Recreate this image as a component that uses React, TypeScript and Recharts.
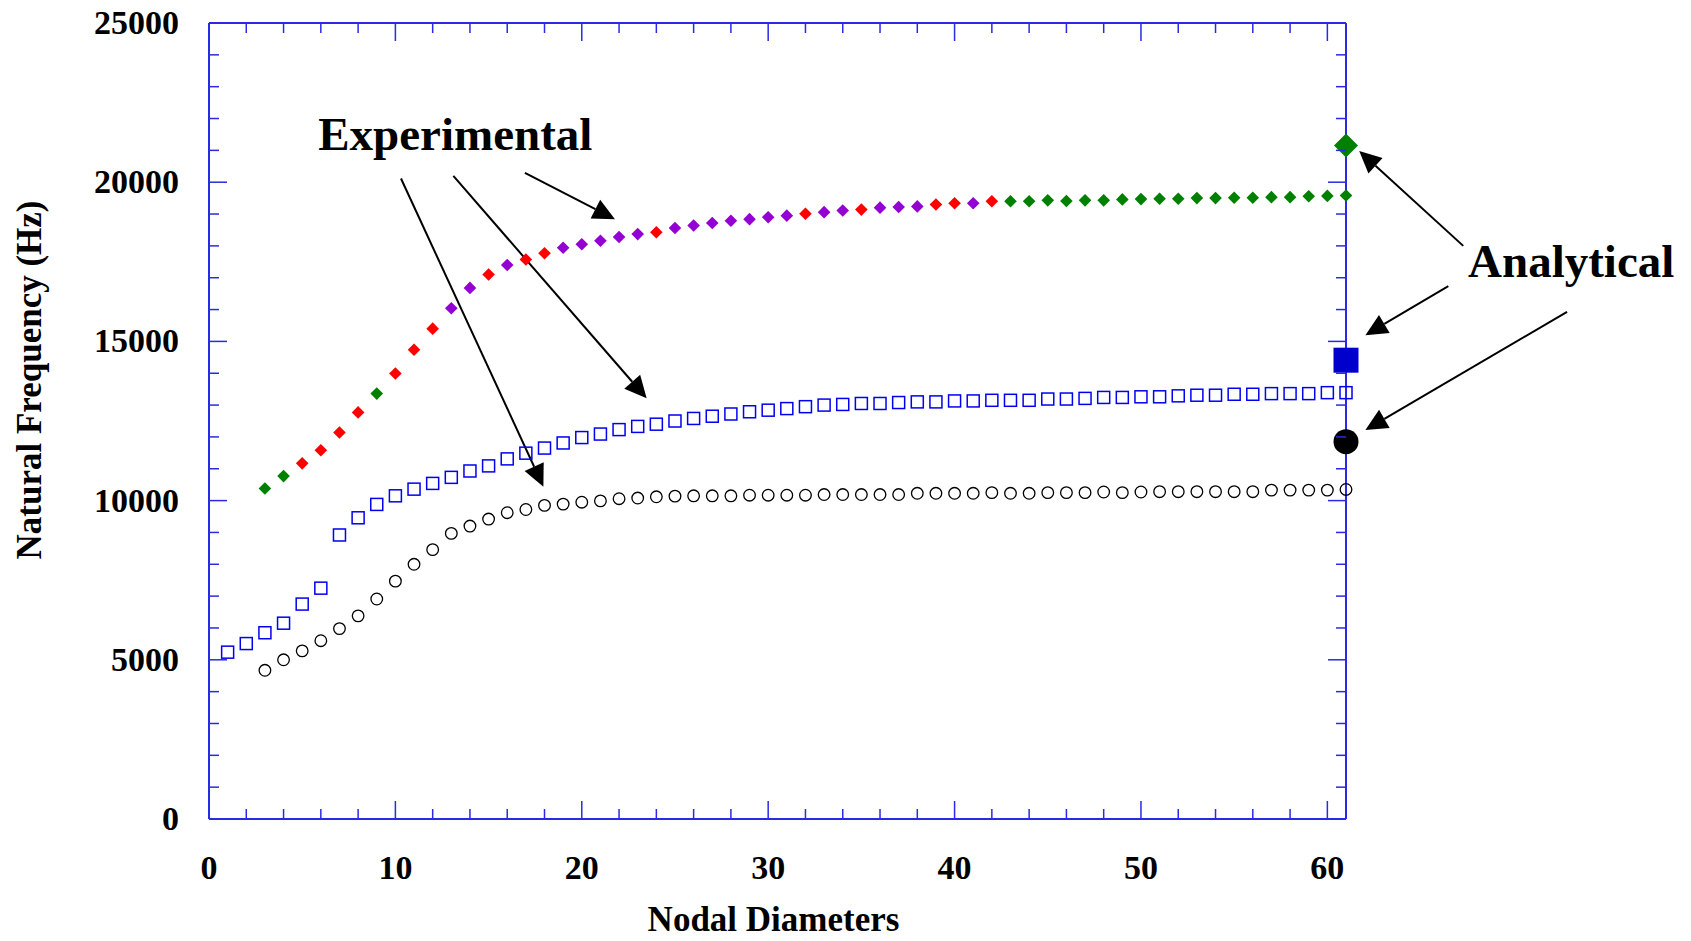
import React from 'react';
import { ScatterChart, Scatter, XAxis, YAxis, ReferenceLine, ReferenceDot } from 'recharts';

// nodal diameter of each measured point
const nodalDiameters = [
  1, 2, 3, 4, 5, 6, 7, 8, 9, 10, 11, 12, 13, 14, 15, 16, 17, 18, 19, 20,
  21, 22, 23, 24, 25, 26, 27, 28, 29, 30, 31, 32, 33, 34, 35, 36, 37, 38, 39, 40,
  41, 42, 43, 44, 45, 46, 47, 48, 49, 50, 51, 52, 53, 54, 55, 56, 57, 58, 59, 60, 61,
];

// experimental, lowest family (open circles)
const circleFreq = [
  null, null, 4670, 5000, 5280, 5600, 5980, 6380, 6910, 7470, 8000, 8460, 8970, 9200, 9420, 9620, 9720, 9850, 9890, 9950,
  9990, 10060, 10080, 10120, 10140, 10150, 10150, 10150, 10170, 10170, 10170, 10170, 10190, 10190, 10190, 10190, 10190, 10230, 10230, 10230,
  10230, 10250, 10230, 10230, 10250, 10250, 10250, 10270, 10250, 10270, 10280, 10280, 10280, 10280, 10280, 10280, 10330, 10330, 10330, 10330, 10350,
];

// experimental, middle family (open squares)
const squareFreq = [
  5240, 5510, 5850, 6150, 6750, 7250, 8920, 9460, 9880, 10150, 10360, 10540, 10730, 10930, 11090, 11310, 11490, 11650, 11810, 11980,
  12090, 12230, 12330, 12400, 12500, 12580, 12650, 12720, 12790, 12840, 12890, 12950, 13000, 13020, 13050, 13050, 13080, 13100, 13100, 13130,
  13130, 13150, 13150, 13150, 13190, 13190, 13210, 13240, 13240, 13260, 13260, 13290, 13310, 13310, 13340, 13340, 13360, 13360, 13360, 13390, 13390,
];

// experimental, upper family (diamonds)
const diamondFreq = [
  null, null, 10380, 10770, 11170, 11580, 12140, 12770, 13360, 13990, 14740, 15400, 16040, 16680, 17100, 17400, 17570, 17770, 17940, 18050,
  18160, 18280, 18370, 18430, 18560, 18640, 18720, 18790, 18840, 18900, 18950, 19010, 19060, 19110, 19140, 19200, 19220, 19240, 19300, 19340,
  19340, 19400, 19400, 19400, 19430, 19410, 19430, 19430, 19460, 19470, 19480, 19480, 19500, 19500, 19510, 19510, 19530, 19530, 19560, 19570, 19580,
];

// which test each diamond came from: g = green, r = red, p = purple
const diamondTest = [
  '', '', 'g', 'g', 'r', 'r', 'r', 'r', 'g', 'r', 'r', 'r', 'p', 'p', 'r', 'p', 'r', 'r', 'p', 'p',
  'p', 'p', 'p', 'r', 'p', 'p', 'p', 'p', 'p', 'p', 'p', 'r', 'p', 'p', 'r', 'p', 'p', 'p', 'r', 'r',
  'p', 'r', 'g', 'g', 'g', 'g', 'g', 'g', 'g', 'g', 'g', 'g', 'g', 'g', 'g', 'g', 'g', 'g', 'g', 'g', 'g',
];

// analytical predictions
const analyticalNd = 61;
const analyticalCircle = 11850;
const analyticalSquare = 14410;
const analyticalDiamond = 21150;

const xTicks = [0, 2, 4, 6, 8, 10, 12, 14, 16, 18, 20, 22, 24, 26, 28, 30, 32, 34, 36, 38, 40, 42, 44, 46, 48, 50, 52, 54, 56, 58, 60];
const xLabels = [0, 10, 20, 30, 40, 50, 60];
const yTicks = [
  0, 1000, 2000, 3000, 4000, 5000, 6000, 7000, 8000, 9000, 10000, 11000, 12000, 13000,
  14000, 15000, 16000, 17000, 18000, 19000, 20000, 21000, 22000, 23000, 24000, 25000,
];
const yLabels = [0, 5000, 10000, 15000, 20000, 25000];

const BLUE = '#2a2ae6';
const FONT = '"Liberation Serif", "Times New Roman", Times, serif';
const testColors: Record<string, string> = { g: '#008000', r: '#ff0000', p: '#9400d3' };

const pick = (vals: (number | null)[]) =>
  nodalDiameters.flatMap((nd, i) => (vals[i] == null ? [] : [{ x: nd, y: vals[i] as number }]));
const diamondsOf = (code: string) =>
  nodalDiameters.flatMap((nd, i) =>
    diamondTest[i] === code && diamondFreq[i] != null ? [{ x: nd, y: diamondFreq[i] as number }] : []
  );

// annotation arrows, in data units
const arrows = [
  { x1: 10.3, y1: 20115, x2: 17.94, y2: 10437 },
  { x1: 13.11, y1: 20196, x2: 23.48, y2: 13211 },
  { x1: 16.95, y1: 20290, x2: 21.78, y2: 18838 },
  { x1: 67.29, y1: 18000, x2: 61.71, y2: 20981 },
  { x1: 66.49, y1: 16735, x2: 62.04, y2: 15197 },
  { x1: 72.86, y1: 15929, x2: 62.04, y2: 12216 },
];

const openCircle = (p: any) => <circle cx={p.cx} cy={p.cy} r={5.8} fill="none" stroke="#000" strokeWidth={1.3} />;
const openSquare = (p: any) => (
  <rect x={p.cx - 6} y={p.cy - 6} width={12} height={12} fill="none" stroke="#0000ee" strokeWidth={1.5} />
);
const diamond = (color: string, h: number) => (p: any) => (
  <polygon
    points={`${p.cx},${p.cy - h} ${p.cx + h},${p.cy} ${p.cx},${p.cy + h} ${p.cx - h},${p.cy}`}
    fill={color}
  />
);
const bigCircle = (p: any) => <circle cx={p.cx} cy={p.cy} r={12.5} fill="#000" />;
const bigSquare = (p: any) => <rect x={p.cx - 12.5} y={p.cy - 12.5} width={25} height={25} fill="#0000cc" />;

const arrowShape = (p: any) => {
  const { x1, y1, x2, y2 } = p;
  const dx = x2 - x1;
  const dy = y2 - y1;
  const len = Math.sqrt(dx * dx + dy * dy) || 1;
  const ux = dx / len;
  const uy = dy / len;
  const bx = x2 - ux * 22;
  const by = y2 - uy * 22;
  return (
    <g>
      <line x1={x1} y1={y1} x2={bx} y2={by} stroke="#000" strokeWidth={2} />
      <polygon points={`${x2},${y2} ${bx - uy * 10.5},${by + ux * 10.5} ${bx + uy * 10.5},${by - ux * 10.5}`} fill="#000" />
    </g>
  );
};

const bigText = (text: string) => (p: any) => (
  <text x={p.cx} y={p.cy} fontFamily={FONT} fontWeight="bold" fontSize={47} fill="#000">
    {text}
  </text>
);

const BottomTick = (p: any) => {
  const major = xLabels.includes(p.payload.value);
  return (
    <g>
      <line x1={p.x} y1={p.y} x2={p.x} y2={p.y - (major ? 18 : 10)} stroke={BLUE} strokeWidth={1.5} />
      {major && (
        <text x={p.x} y={p.y + 60} textAnchor="middle" fontFamily={FONT} fontWeight="bold" fontSize={34} fill="#000">
          {p.payload.value}
        </text>
      )}
    </g>
  );
};
const TopTick = (p: any) => {
  const major = xLabels.includes(p.payload.value);
  return <line x1={p.x} y1={p.y} x2={p.x} y2={p.y + (major ? 18 : 10)} stroke={BLUE} strokeWidth={1.5} />;
};
const LeftTick = (p: any) => {
  const major = yLabels.includes(p.payload.value);
  return (
    <g>
      <line x1={p.x} y1={p.y} x2={p.x + (major ? 18 : 10)} y2={p.y} stroke={BLUE} strokeWidth={1.5} />
      {major && (
        <text x={p.x - 30} y={p.y} dy={11} textAnchor="end" fontFamily={FONT} fontWeight="bold" fontSize={34} fill="#000">
          {p.payload.value}
        </text>
      )}
    </g>
  );
};
const RightTick = (p: any) => {
  const major = yLabels.includes(p.payload.value);
  return <line x1={p.x} y1={p.y} x2={p.x - (major ? 18 : 10)} y2={p.y} stroke={BLUE} strokeWidth={1.5} />;
};

const XTitle = (p: any) => {
  const vb = p.viewBox || { x: 209, y: 819, width: 1137, height: 122 };
  return (
    <text x={vb.x + vb.width / 2 - 4} y={vb.y + 112} textAnchor="middle" fontFamily={FONT} fontWeight="bold" fontSize={35} fill="#000">
      Nodal Diameters
    </text>
  );
};
const YTitle = (p: any) => {
  const vb = p.viewBox || { x: 0, y: 23, width: 209, height: 796 };
  const cx = vb.x + 41;
  const cy = vb.y + vb.height / 2 - 41;
  return (
    <text x={cx} y={cy} transform={`rotate(-90 ${cx} ${cy})`} textAnchor="middle" fontFamily={FONT} fontWeight="bold" fontSize={35} fill="#000">
      Natural Frequency (Hz)
    </text>
  );
};

export default function App() {
  return (
    <div style={{ position: 'absolute', left: 0, top: 0, width: 1691, height: 941, background: '#fff' }}>
      <ScatterChart width={1691} height={941} margin={{ top: 0, right: 0, bottom: 0, left: 0 }}>
        <XAxis
          xAxisId="b" type="number" dataKey="x" domain={[0, 61]} ticks={xTicks} interval={0}
          height={122} tickSize={0} tickMargin={0} tickLine={false} tick={BottomTick}
          axisLine={{ stroke: BLUE, strokeWidth: 2 }} label={XTitle}
        />
        {/* mirror axes: no series on them, so they keep their fixed domain */}
        <XAxis
          xAxisId="t" orientation="top" type="number" dataKey="x" domain={[0, 61]} ticks={xTicks} interval={0}
          height={23} tickSize={0} tickMargin={0} tickLine={false} tick={TopTick}
          axisLine={{ stroke: BLUE, strokeWidth: 2 }} allowDataOverflow
        />
        <YAxis
          yAxisId="l" type="number" dataKey="y" domain={[0, 25000]} ticks={yTicks} interval={0}
          width={209} tickSize={0} tickMargin={0} tickLine={false} tick={LeftTick}
          axisLine={{ stroke: BLUE, strokeWidth: 2 }} label={YTitle}
        />
        <YAxis
          yAxisId="r" orientation="right" type="number" dataKey="y" domain={[0, 25000]} ticks={yTicks} interval={0}
          width={345} tickSize={0} tickMargin={0} tickLine={false} tick={RightTick}
          axisLine={{ stroke: BLUE, strokeWidth: 2 }} allowDataOverflow
        />

        <Scatter xAxisId="b" yAxisId="l" data={pick(circleFreq)} shape={openCircle} isAnimationActive={false} />
        <Scatter xAxisId="b" yAxisId="l" data={pick(squareFreq)} shape={openSquare} isAnimationActive={false} />
        <Scatter xAxisId="b" yAxisId="l" data={diamondsOf('g')} shape={diamond(testColors.g, 6.3)} isAnimationActive={false} />
        <Scatter xAxisId="b" yAxisId="l" data={diamondsOf('r')} shape={diamond(testColors.r, 6.3)} isAnimationActive={false} />
        <Scatter xAxisId="b" yAxisId="l" data={diamondsOf('p')} shape={diamond(testColors.p, 6.3)} isAnimationActive={false} />

        <Scatter xAxisId="b" yAxisId="l" data={[{ x: analyticalNd, y: analyticalCircle }]} shape={bigCircle} isAnimationActive={false} />
        <Scatter xAxisId="b" yAxisId="l" data={[{ x: analyticalNd, y: analyticalSquare }]} shape={bigSquare} isAnimationActive={false} />
        <Scatter xAxisId="b" yAxisId="l" data={[{ x: analyticalNd, y: analyticalDiamond }]} shape={diamond('#008000', 12)} isAnimationActive={false} />

        {arrows.map((a, i) => (
          <ReferenceLine
            key={i} xAxisId="b" yAxisId="l" ifOverflow="visible"
            segment={[{ x: a.x1, y: a.y1 }, { x: a.x2, y: a.y2 }]} shape={arrowShape}
          />
        ))}
        <ReferenceDot xAxisId="b" yAxisId="l" x={5.86} y={21003} r={0} ifOverflow="visible" shape={bigText('Experimental')} />
        <ReferenceDot xAxisId="b" yAxisId="l" x={67.55} y={17027} r={0} ifOverflow="visible" shape={bigText('Analytical')} />
      </ScatterChart>
    </div>
  );
}
